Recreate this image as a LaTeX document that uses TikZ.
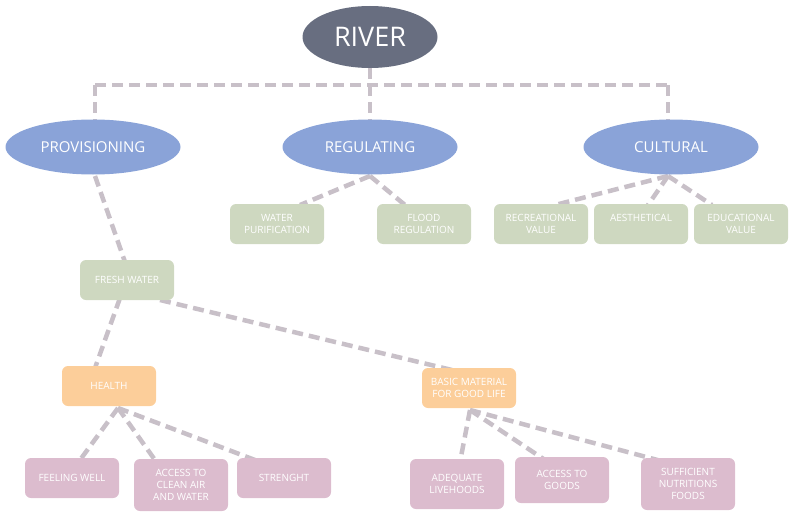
\documentclass[tikz,border=0pt]{standalone}
\usepackage{fontspec}
\setmainfont{Open Sans}
\usetikzlibrary{shapes.geometric}
\definecolor{riverc}{RGB}{104, 110, 128}
\definecolor{servc}{RGB}{138, 163, 216}
\definecolor{greenc}{RGB}{206, 216, 192}
\definecolor{orangec}{RGB}{252, 206, 154}
\definecolor{pinkc}{RGB}{220, 188, 206}
\definecolor{linkc}{RGB}{200, 192, 200}

\begin{document}
\begin{tikzpicture}[x=1pt, y=-1pt,
  link/.style={line width=4.5pt, linkc, dash pattern=on 11pt off 6pt},
  oval/.style={ellipse, fill=servc, text=white, minimum width=175pt, minimum height=55pt, font=\fontsize{15}{17}\selectfont},
  box/.style={rounded corners=6pt, text=white, minimum width=94pt, minimum height=40pt, align=center, font=\fontsize{10}{12}\selectfont},
  gbox/.style={box, fill=greenc},
  obox/.style={box, fill=orangec},
  pbox/.style={box, fill=pinkc}]
  \useasboundingbox (0, 0) rectangle (800, 519);

  % links first
  \coordinate (top) at (370, 85);
  \coordinate (topl) at (95, 85);
  \coordinate (topr) at (668, 85);
  \draw[link] (370, 68) -- (top);
  \draw[link] (topl) -- (topr);
  \draw[link] (topl) -- (95, 120);
  \draw[link] (top) -- (370, 120);
  \draw[link] (topr) -- (668, 120);

  \draw[link] (370, 176) -- (300, 205);
  \draw[link] (370, 176) -- (405, 205);
  \draw[link] (668, 176) -- (555, 205);
  \draw[link] (668, 176) -- (648, 205);
  \draw[link] (668, 176) -- (712, 205);
  \draw[link] (95, 176) -- (125, 262);
  \draw[link] (120, 298) -- (95, 368);
  \draw[link] (160, 300) -- (452, 370);
  \draw[link] (118, 408) -- (80, 460);
  \draw[link] (118, 408) -- (155, 460);
  \draw[link] (118, 408) -- (255, 460);
  \draw[link] (470, 410) -- (460, 462);
  \draw[link] (470, 410) -- (548, 462);
  \draw[link] (470, 410) -- (665, 462);

  % nodes
  \node[ellipse, fill=riverc, text=white, minimum width=135pt, minimum height=62pt,
    font=\fontsize{27}{30}\selectfont] (river) at (370, 37) {RIVER};
  \node[oval] (prov) at (93, 147) {PROVISIONING};
  \node[oval] (reg) at (370, 147) {REGULATING};
  \node[oval] (cult) at (671, 147) {CULTURAL};

  \node[gbox] (purif) at (277, 224) {WATER\\PURIFICATION};
  \node[gbox] (flood) at (424, 224) {FLOOD\\REGULATION};
  \node[gbox] (recr) at (541, 224) {RECREATIONAL\\VALUE};
  \node[gbox] (aest) at (641, 224) {AESTHETICAL\\\mbox{}};
  \node[gbox] (educ) at (741, 224) {EDUCATIONAL\\VALUE};

  \node[gbox] (fresh) at (127, 280) {FRESH WATER};
  \node[obox] (health) at (109, 386) {HEALTH};
  \node[obox] (basic) at (469, 388) {BASIC MATERIAL\\FOR GOOD LIFE};

  \node[pbox] (well) at (72, 478) {FEELING WELL};
  \node[pbox, minimum height=52pt] (air) at (181, 485) {ACCESS TO\\CLEAN AIR\\AND WATER};
  \node[pbox] (streng) at (284, 478) {STRENGHT};
  \node[pbox, minimum height=50pt] (livh) at (457, 484) {ADEQUATE\\LIVEHOODS};
  \node[pbox, minimum height=46pt] (goods) at (562, 480) {ACCESS TO\\GOODS};
  \node[pbox, minimum height=52pt] (food) at (688, 484) {SUFFICIENT\\NUTRITIONS\\FOODS};
\end{tikzpicture}
\end{document}
